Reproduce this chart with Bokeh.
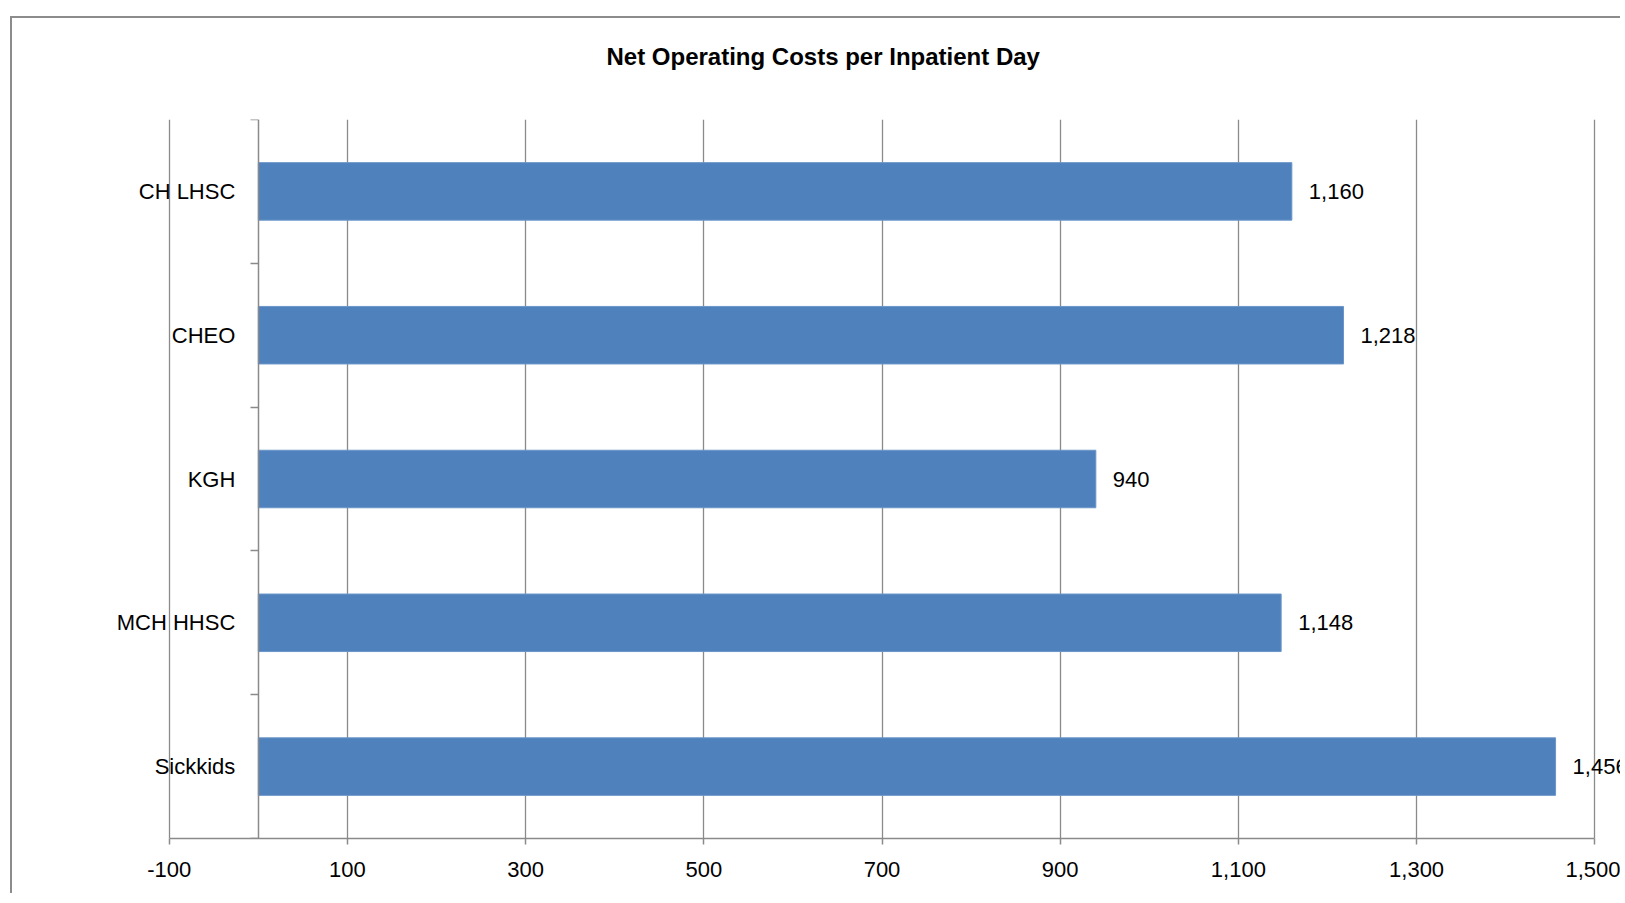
from bokeh.plotting import figure
from bokeh.models import (ColumnDataSource, FixedTicker, LinearAxis, Range1d,
                          NumeralTickFormatter, LabelSet)
from bokeh.core.properties import value
from bokeh.embed import file_html
from bokeh.resources import INLINE

# ---- data ----
hospitals = ["CH LHSC", "CHEO", "KGH", "MCH HHSC", "Sickkids"]
costs = [1160, 1218, 940, 1148, 1456]
x_ticks = [-100, 100, 300, 500, 700, 900, 1100, 1300, 1500]
title_text = "Net Operating Costs per Inpatient Day"

FONT = "Liberation Sans"
GRAY = "#8a8a8a"
BAR = "#4F81BD"

n = len(hospitals)
ypos = [n - i - 0.5 for i in range(n)]
labels = [f"{v:,}" for v in costs]
src = ColumnDataSource(dict(y=ypos, cost=costs, name=hospitals, label=labels))

# the frame is widened so that category labels and the last value label
# are not clipped; axis line is bounded to the tick range
p = figure(width=1610, height=877,
           x_range=Range1d(-240, 1530), y_range=Range1d(0, n),
           output_backend="svg", toolbar_location=None,
           y_axis_location=None,
           min_border_left=32, min_border_right=1,
           min_border_bottom=57, min_border_top=100)
p.styles = {"margin-left": "10px", "margin-top": "16px",
            "border-left": "2px solid #8c8c8c", "border-top": "2px solid #8c8c8c"}
p.outline_line_color = None
p.background_fill_color = "white"
p.border_fill_color = "white"

p.hbar(y="y", left=0, right="cost", height=0.4, source=src,
       fill_color=BAR, line_color="#6a95c8", line_width=1)

# grid
p.xgrid.ticker = FixedTicker(ticks=x_ticks)
p.xgrid.grid_line_color = GRAY
p.xgrid.grid_line_width = 1.3
p.ygrid.visible = False

# x axis
xa = p.xaxis[0]
xa.ticker = FixedTicker(ticks=x_ticks)
xa.bounds = (x_ticks[0], x_ticks[-1])
xa.formatter = NumeralTickFormatter(format="0,0")
xa.axis_line_color = GRAY
xa.axis_line_width = 1.5
xa.major_tick_line_color = GRAY
xa.major_tick_line_width = 1.5
xa.major_tick_out = 6
xa.major_tick_in = 0
xa.minor_tick_line_color = None
xa.major_label_text_font = FONT
xa.major_label_text_font_size = "22px"
xa.major_label_text_color = "black"
xa.major_label_standoff = 17

# y axis at x = 0 with ticks between categories
ya = LinearAxis(fixed_location=0,
                ticker=FixedTicker(ticks=ypos, minor_ticks=list(range(n + 1))),
                major_label_overrides={y: nm for y, nm in zip(ypos, hospitals)})
ya.axis_line_color = GRAY
ya.axis_line_width = 1.5
ya.major_tick_out = 0
ya.major_tick_in = 0
ya.major_tick_line_color = None
ya.minor_tick_out = 8
ya.minor_tick_in = 0
ya.minor_tick_line_color = GRAY
ya.minor_tick_line_width = 1.5
ya.major_label_text_font = FONT
ya.major_label_text_font_size = "22px"
ya.major_label_text_color = "black"
ya.major_label_standoff = 15
p.add_layout(ya, "left")

# data labels
p.add_layout(LabelSet(x="cost", y="y", text="label", source=src,
                      x_offset=17, text_baseline="middle",
                      text_font=value(FONT), text_font_size=value("22px"),
                      text_color="black"))

# title (trailing empty line lifts it higher above the plot area)
p.title.text = title_text + "\n"
p.title.text_font = FONT
p.title.text_font_size = "24px"
p.title.text_font_style = "bold"
p.title.text_color = "black"
p.title.align = "left"
p.title.offset = 562
p.title.standoff = 45

open("out.html", "w").write(file_html(p, INLINE))
